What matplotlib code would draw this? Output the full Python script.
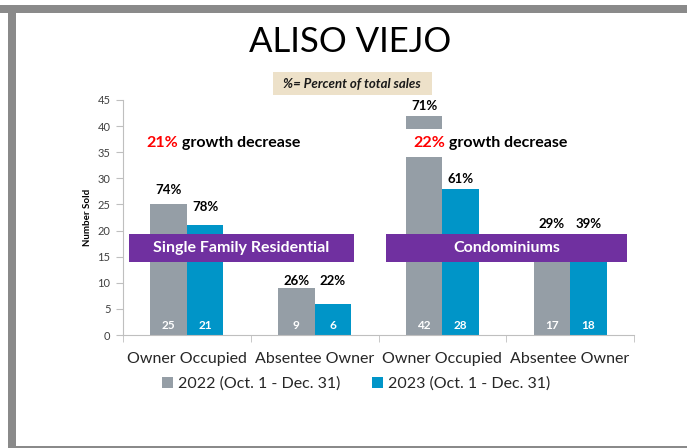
import matplotlib.pyplot as plt
from matplotlib.patches import Rectangle, Patch

plt.rcParams['font.family'] = ['Lato', 'DejaVu Sans']

# data
categories = ["Owner Occupied", "Absentee Owner", "Owner Occupied", "Absentee Owner"]
sold_2022 = [25, 9, 42, 17]
sold_2023 = [21, 6, 28, 18]
pct_2022 = ["74%", "26%", "71%", "29%"]
pct_2023 = ["78%", "22%", "61%", "39%"]
series_names = ["2022 (Oct. 1 - Dec. 31)", "2023 (Oct. 1 - Dec. 31)"]
growth = ["21%", "22%"]
segments = ["Single Family Residential", "Condominiums"]

# where the percent labels sit (Excel moved some of them by hand)
pct_y_2022 = [27.8, 10.3, 43.9, 21.3]
pct_y_2023 = [24.5, 10.3, 29.9, 21.3]

GRAY = "#959ea6"
BLUE = "#0095c8"
PURPLE = "#7030a0"
FRAME = "#8a8a8a"

W, H = 687, 448
fig = plt.figure(figsize=(W / 100, H / 100), dpi=100, facecolor="white")

# gray frame on top / left / bottom
for (x0, y0, x1, y1) in [(0, 5, W, 13), (8, 13, 16, 446), (8, 446, W, 448)]:
    fig.patches.append(Rectangle((x0 / W, 1 - y1 / H), (x1 - x0) / W, (y1 - y0) / H,
                                 transform=fig.transFigure, facecolor=FRAME,
                                 edgecolor="none"))

fig.text(350 / W, 1 - 42 / H, "ALISO VIEJO", ha="center", va="center",
         fontsize=25, color="black")

# note box
fig.patches.append(Rectangle((273 / W, 1 - 95 / H), 159 / W, 23 / H,
                             transform=fig.transFigure, facecolor="#ede1c9",
                             edgecolor="none"))
fig.text(352 / W, 1 - 84 / H, "%= Percent of total sales", ha="center", va="center",
         fontsize=9.5, fontweight="bold", fontstyle="italic", color="#1a1a1a")

ax = fig.add_axes([123 / W, 1 - 335 / H, 511 / W, 235 / H])
x = list(range(len(categories)))
bw = 0.286
xg = [i - bw / 2 for i in x]
xb = [i + bw / 2 for i in x]
ax.bar(xg, sold_2022, width=bw, color=GRAY, zorder=2)
ax.bar(xb, sold_2023, width=bw, color=BLUE, zorder=2)

for xi, v in zip(xg, sold_2022):
    ax.text(xi, 1.9, str(v), ha="center", va="center", color="white",
            fontsize=8.5, fontweight="bold", zorder=5)
for xi, v in zip(xb, sold_2023):
    ax.text(xi, 1.9, str(v), ha="center", va="center", color="white",
            fontsize=8.5, fontweight="bold", zorder=5)
for xi, p, yy in zip(xg, pct_2022, pct_y_2022):
    ax.text(xi, yy, p, ha="center", va="center", fontsize=9.5,
            fontweight="bold", zorder=5)
for xi, p, yy in zip(xb, pct_2023, pct_y_2023):
    ax.text(xi, yy, p, ha="center", va="center", fontsize=9.5,
            fontweight="bold", zorder=5)

# purple segment banners
banners = [(-0.453, 1.308), (1.559, 3.445)]
for (b0, b1), name in zip(banners, segments):
    ax.add_patch(Rectangle((b0, 14.0), b1 - b0, 5.3, facecolor=PURPLE,
                           edgecolor="none", zorder=4))
    ax.text((b0 + b1) / 2, 16.65, name, ha="center", va="center", color="white",
            fontsize=11.5, fontweight="bold", zorder=5)

# growth notes: red percent + black text
for gx, g, boxed in zip([-0.32, 1.77], growth, [False, True]):
    kw = {}
    if boxed:
        kw["bbox"] = dict(boxstyle="square,pad=0.45", facecolor="white", edgecolor="none")
    t = ax.text(gx, 36.8, g, ha="left", va="center", color="#ff0000",
                fontsize=11.5, fontweight="bold", zorder=6, **kw)
    ax.annotate(" growth decrease", xy=(1, 0.5), xycoords=t, ha="left", va="center",
                fontsize=11.5, fontweight="bold", color="black", zorder=6)

ax.set_xlim(-0.5, 3.5)
ax.set_ylim(0, 45)
ax.set_yticks(range(0, 46, 5))
ax.set_xticks(x)
ax.set_xticklabels(categories)
ax.set_xticks([-0.5, 0.5, 1.5, 2.5, 3.5], minor=True)
ax.tick_params(axis="x", which="major", length=0, pad=12, labelsize=11.5,
               labelcolor="#262626")
ax.tick_params(axis="x", which="minor", length=5, color="#bfbfbf")
ax.tick_params(axis="y", length=5, color="#bfbfbf", labelsize=8, labelcolor="#404040",
               pad=4)
for s in ["top", "right"]:
    ax.spines[s].set_visible(False)
for s in ["left", "bottom"]:
    ax.spines[s].set_color("#bfbfbf")
ax.set_ylabel("Number Sold", fontsize=7, fontweight="bold", labelpad=4)

handles = [Patch(facecolor=GRAY, edgecolor="none"), Patch(facecolor=BLUE, edgecolor="none")]
fig.legend(handles, series_names, loc="center", bbox_to_anchor=(356 / W, 1 - 384 / H),
           ncol=2, frameon=False, fontsize=11.5, handlelength=0.7, handleheight=0.7,
           handletextpad=0.3, columnspacing=2.0, labelcolor="#262626")

fig.savefig("out.png", dpi=100, facecolor="white")
